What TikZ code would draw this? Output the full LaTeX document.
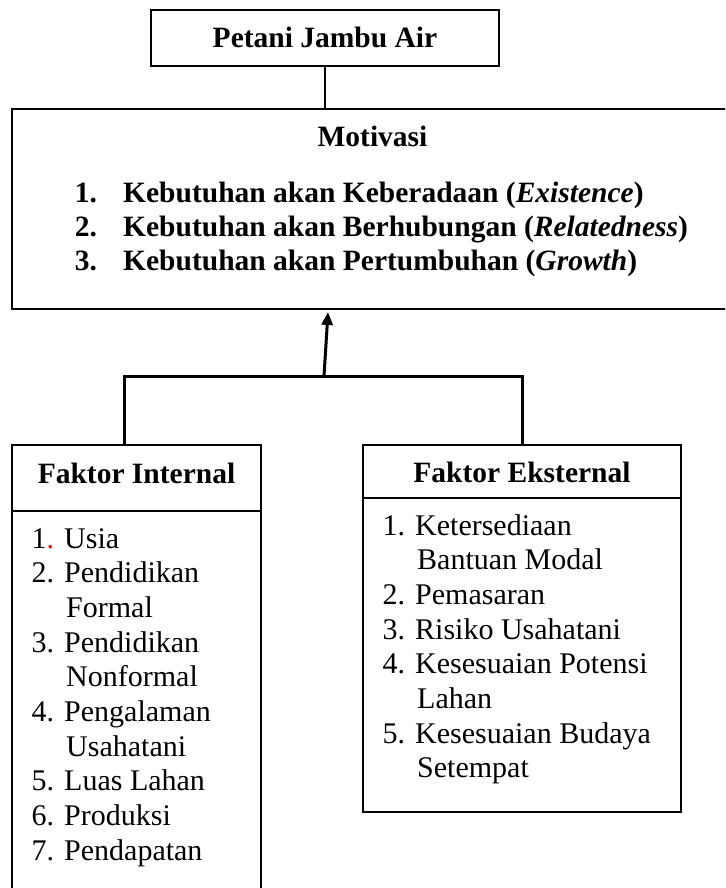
\documentclass[tikz,border=0pt]{standalone}
\usepackage{fontspec}
\setmainfont{Liberation Serif}
\usetikzlibrary{arrows.meta}

\newcommand{\listfont}{\fontsize{30}{34.67}\selectfont}
\newcommand{\headfont}{\fontsize{29.5}{34.3}\selectfont\bfseries}
\newcommand{\cont}{\hspace*{34.5pt}}

\begin{document}
\begin{tikzpicture}[
                    x=1pt, y=-1pt,
                    box/.style={draw, line width=2pt, inner sep=0pt},
                    heading/.style={anchor=base, inner sep=0pt, font=\headfont},
                    entry/.style={anchor=base west, inner sep=0pt, font=\listfont},
                    link/.style={line width=2.5pt},
                    bus/.style={line width=3pt},
                    >={Triangle[length=13pt, width=11pt]},
                ]
                \path[use as bounding box, clip] (0,0) rectangle (725,888);

                \node[box, minimum width=348pt, minimum height=56pt] (petani) at (325,38) {};
                \node[heading] (petani-text) at (325,47.5) {Petani Jambu Air};

                \node[box, minimum width=721.3pt, minimum height=200pt] (motivasi) at (372.35,209) {};
                \node[heading] (motivasi-text) at (372.5,146.7) {Motivasi};
                \foreach \num/\txt [count=\i from 0] in {
                    1./Kebutuhan akan Keberadaan (\textit{Existence}),
                    2./Kebutuhan akan Berhubungan (\textit{Relatedness}),
                    3./Kebutuhan akan Pertumbuhan (\textit{Growth})}
                    \node[heading, anchor=base west] (need-\i) at (74.7,{202+34.3*\i}) {\makebox[48.3pt][l]{\num}\txt};

                \node[box, minimum width=249pt, minimum height=66pt] (ihead) at (136.5,478) {};
                \node[box, minimum width=249pt, minimum height=394pt] (ibody) at (136.5,708) {};
                \node[heading] (ihead-text) at (136.5,483) {Faktor Internal};
                \foreach \txt [count=\i from 0] in {
                    1{\color{red}.} Usia, 2. Pendidikan, \cont Formal,
                    3. Pendidikan, \cont Nonformal, 4. Pengalaman,
                    \cont Usahatani, 5. Luas Lahan, 6. Produksi, 7. Pendapatan}
                    \node[entry] (int-\i) at (31.5,{548+34.67*\i}) {\txt};

                \node[box, minimum width=318pt, minimum height=53pt] (ehead) at (522,471.5) {};
                \node[box, minimum width=318pt, minimum height=314pt] (ebody) at (522,655) {};
                \node[heading] (ehead-text) at (522,482) {Faktor Eksternal};
                \foreach \txt [count=\i from 0] in {
                    1. Ketersediaan, \cont Bantuan Modal, 2. Pemasaran,
                    3. Risiko Usahatani, 4. Kesesuaian Potensi, \cont Lahan,
                    5. Kesesuaian Budaya, \cont Setempat}
                    \node[entry] (ext-\i) at (382.5,{535+34.67*\i}) {\txt};

                \coordinate (busL) at (124,376);
                \coordinate (junction) at (324,376);
                \coordinate (tip) at (328,312);

                \draw[link] (petani.south) -- (petani.south |- motivasi.north);
                \draw[bus] (busL |- ihead.north) -- (busL) -- (busL -| ehead.north) -- (ehead.north);
                \draw[bus, ->] (junction) -- (tip);
            \end{tikzpicture}
\end{document}
